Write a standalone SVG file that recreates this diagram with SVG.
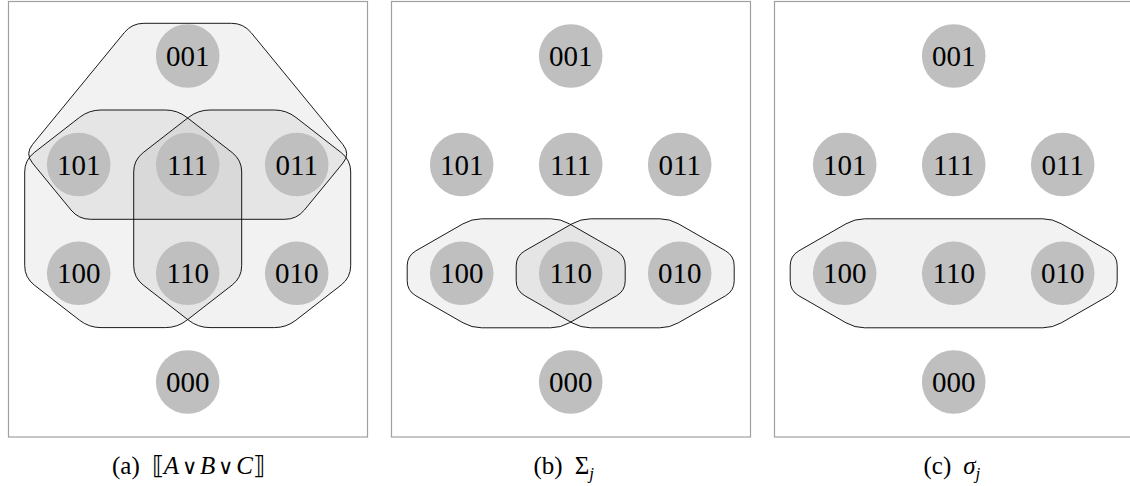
<svg xmlns="http://www.w3.org/2000/svg" width="1130" height="486" viewBox="0 0 1130 486">
<style>
.frame{fill:#fff;stroke:#a0a0a0;stroke-width:1.2}
.reg{fill:#000;fill-opacity:0.05;stroke:#000;stroke-width:0.9}
.node circle{fill:#bfbfbf}
.node text{font-size:29px;fill:#000;text-anchor:middle}
.cap{font-size:25px;fill:#000}
.it{font-style:italic}
.op{font-family:'DejaVu Sans',sans-serif;font-weight:200;font-size:21px}
</style>
<rect width="1130" height="486" fill="#fff"/>
<g id="frames">
<rect class="frame" x="8.5" y="1.5" width="359" height="435.5"/>
<rect class="frame" x="391.5" y="1.5" width="359" height="435.5"/>
<rect class="frame" x="774.5" y="1.5" width="370" height="435.5"/>
</g>
<g id="regions">
<path id="reg-a-C" class="reg" d="M124.3,32.6 Q131.9,23.3 143.9,23.3 L231.5,23.3 Q243.5,23.3 251.1,32.6 L342.9,144.5 Q350.5,153.8 342.9,163.1 L304.4,210 Q296.8,219.3 284.8,219.3 L90.6,219.3 Q78.6,219.3 71,210 L32.5,163.1 Q24.9,153.8 32.5,144.5 Z"/>
<path id="reg-a-A" class="reg" d="M79.5,117.4 Q89,110 101,110 L165.4,110 Q177.4,110 186.9,117.4 L232.2,152.6 Q241.7,160 241.7,172 L241.7,265.6 Q241.7,277.6 232.2,285 L186.9,320.2 Q177.4,327.6 165.4,327.6 L101,327.6 Q89,327.6 79.5,320.2 L34.2,285 Q24.7,277.6 24.7,265.6 L24.7,172 Q24.7,160 34.2,152.6 Z"/>
<path id="reg-a-B" class="reg" d="M188.5,117.4 Q198,110 210,110 L274.4,110 Q286.4,110 295.9,117.4 L341.2,152.6 Q350.7,160 350.7,172 L350.7,265.6 Q350.7,277.6 341.2,285 L295.9,320.2 Q286.4,327.6 274.4,327.6 L210,327.6 Q198,327.6 188.5,320.2 L143.2,285 Q133.7,277.6 133.7,265.6 L133.7,172 Q133.7,160 143.2,152.6 Z"/>
<path id="reg-b-1" class="reg" d="M463,223.8 Q471.7,218.8 481.7,218.8 L550.7,218.8 Q560.7,218.8 569.4,223.8 L616.5,250.8 Q625.2,255.8 625.2,265.8 L625.2,280.8 Q625.2,290.8 616.5,295.8 L569.4,322.8 Q560.7,327.8 550.7,327.8 L481.7,327.8 Q471.7,327.8 463,322.8 L415.9,295.8 Q407.2,290.8 407.2,280.8 L407.2,265.8 Q407.2,255.8 415.9,250.8 Z"/>
<path id="reg-b-2" class="reg" d="M572,223.8 Q580.7,218.8 590.7,218.8 L659.7,218.8 Q669.7,218.8 678.4,223.8 L725.5,250.8 Q734.2,255.8 734.2,265.8 L734.2,280.8 Q734.2,290.8 725.5,295.8 L678.4,322.8 Q669.7,327.8 659.7,327.8 L590.7,327.8 Q580.7,327.8 572,322.8 L524.9,295.8 Q516.2,290.8 516.2,280.8 L516.2,265.8 Q516.2,255.8 524.9,250.8 Z"/>
<path id="reg-c" class="reg" d="M846,223.8 Q854.7,218.8 864.7,218.8 L1042.7,218.8 Q1052.7,218.8 1061.4,223.8 L1108.5,250.8 Q1117.2,255.8 1117.2,265.8 L1117.2,280.8 Q1117.2,290.8 1108.5,295.8 L1061.4,322.8 Q1052.7,327.8 1042.7,327.8 L864.7,327.8 Q854.7,327.8 846,322.8 L798.9,295.8 Q790.2,290.8 790.2,280.8 L790.2,265.8 Q790.2,255.8 798.9,250.8 Z"/>
</g>
<g font-family="'Liberation Serif', serif">
<g id="nodes-a">
<g id="a-001" class="node"><circle cx="187.7" cy="56" r="31.8"/><text x="187.7" y="66">001</text></g>
<g id="a-101" class="node"><circle cx="78.7" cy="164.5" r="31.8"/><text x="78.7" y="174.5">101</text></g>
<g id="a-111" class="node"><circle cx="187.7" cy="164.5" r="31.8"/><text x="187.7" y="174.5">111</text></g>
<g id="a-011" class="node"><circle cx="296.7" cy="164.5" r="31.8"/><text x="296.7" y="174.5">011</text></g>
<g id="a-100" class="node"><circle cx="78.7" cy="273.3" r="31.8"/><text x="78.7" y="283.3">100</text></g>
<g id="a-110" class="node"><circle cx="187.7" cy="273.3" r="31.8"/><text x="187.7" y="283.3">110</text></g>
<g id="a-010" class="node"><circle cx="296.7" cy="273.3" r="31.8"/><text x="296.7" y="283.3">010</text></g>
<g id="a-000" class="node"><circle cx="187.7" cy="382" r="31.8"/><text x="187.7" y="392">000</text></g>
</g>
<g id="nodes-b">
<g id="b-001" class="node"><circle cx="570.7" cy="56" r="31.8"/><text x="570.7" y="66">001</text></g>
<g id="b-101" class="node"><circle cx="461.7" cy="164.5" r="31.8"/><text x="461.7" y="174.5">101</text></g>
<g id="b-111" class="node"><circle cx="570.7" cy="164.5" r="31.8"/><text x="570.7" y="174.5">111</text></g>
<g id="b-011" class="node"><circle cx="679.7" cy="164.5" r="31.8"/><text x="679.7" y="174.5">011</text></g>
<g id="b-100" class="node"><circle cx="461.7" cy="273.3" r="31.8"/><text x="461.7" y="283.3">100</text></g>
<g id="b-110" class="node"><circle cx="570.7" cy="273.3" r="31.8"/><text x="570.7" y="283.3">110</text></g>
<g id="b-010" class="node"><circle cx="679.7" cy="273.3" r="31.8"/><text x="679.7" y="283.3">010</text></g>
<g id="b-000" class="node"><circle cx="570.7" cy="382" r="31.8"/><text x="570.7" y="392">000</text></g>
</g>
<g id="nodes-c">
<g id="c-001" class="node"><circle cx="953.7" cy="56" r="31.8"/><text x="953.7" y="66">001</text></g>
<g id="c-101" class="node"><circle cx="844.7" cy="164.5" r="31.8"/><text x="844.7" y="174.5">101</text></g>
<g id="c-111" class="node"><circle cx="953.7" cy="164.5" r="31.8"/><text x="953.7" y="174.5">111</text></g>
<g id="c-011" class="node"><circle cx="1062.7" cy="164.5" r="31.8"/><text x="1062.7" y="174.5">011</text></g>
<g id="c-100" class="node"><circle cx="844.7" cy="273.3" r="31.8"/><text x="844.7" y="283.3">100</text></g>
<g id="c-110" class="node"><circle cx="953.7" cy="273.3" r="31.8"/><text x="953.7" y="283.3">110</text></g>
<g id="c-010" class="node"><circle cx="1062.7" cy="273.3" r="31.8"/><text x="1062.7" y="283.3">010</text></g>
<g id="c-000" class="node"><circle cx="953.7" cy="382" r="31.8"/><text x="953.7" y="392">000</text></g>
</g>
<g id="captions">
<text class="cap" x="112" y="474">(a)<tspan dx="12">⟦</tspan><tspan class="it">A</tspan><tspan class="op" dx="3">∨</tspan><tspan class="it" dx="3">B</tspan><tspan class="op" dx="3">∨</tspan><tspan class="it" dx="3">C</tspan>⟧</text>
<text class="cap" x="533.5" y="474">(b)<tspan dx="12">Σ</tspan><tspan class="it" font-size="17" dy="5">j</tspan></text>
<text class="cap" x="923.5" y="474">(c)<tspan dx="12" class="it">σ</tspan><tspan class="it" font-size="17" dy="5">j</tspan></text>
</g>
</g>
</svg>
